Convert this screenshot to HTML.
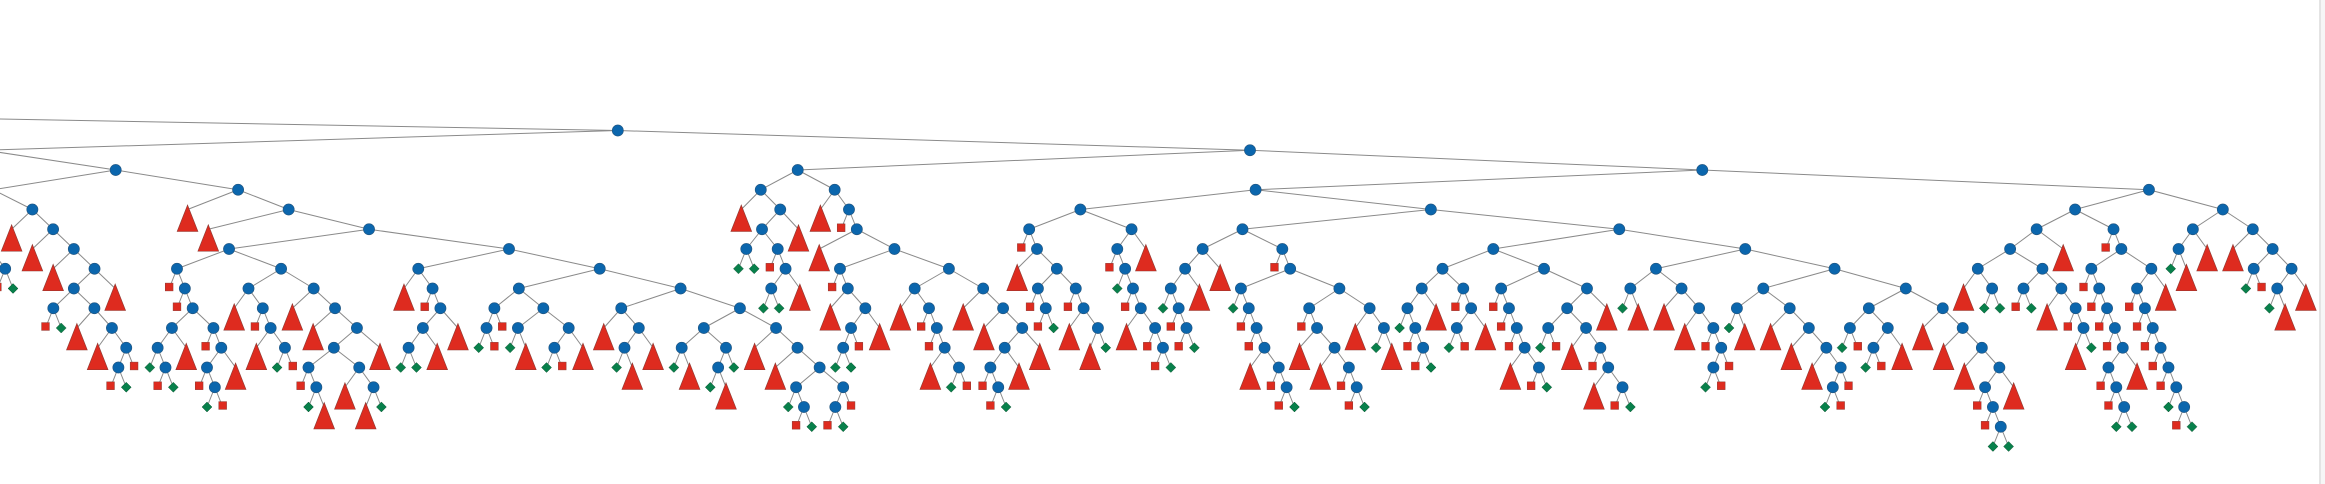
<!DOCTYPE html>
<html><head><meta charset="utf-8"><title>Tree</title>
<style>html,body{margin:0;padding:0;background:#fff;width:2325px;height:484px;overflow:hidden}svg{display:block}</style>
</head><body>
<svg id="chart" width="2325" height="484" viewBox="0 0 2325 484" xmlns="http://www.w3.org/2000/svg">
<rect x="0" y="0" width="2325" height="484" fill="#fff"/>
<rect x="2319" y="0" width="2" height="484" fill="#e4e4e4"/>
<rect x="2321" y="0" width="4" height="484" fill="#f6f6f6"/>
<g id="edges"></g>
<g id="nodes"></g>
</svg>
<script>
// Tree structure data: ( L R ) = split node, T = subtree triangle, s = red square leaf, d = green diamond leaf
const subX0 = "(T (T (T (s d))))";
const subD1 = "((T (T (T (s d)))) (T (T (T (((s d) (T (T ((s d) s)))) T)))))";
const subN179 = "(s (s (((d (s d)) T) (s ((s (d s)) T)))))";
const subN282 = "((T (s (T (d s)))) (T (T (((s (d T)) (T (T d))) T))))";
const subN419 = "(T (s (((d d) T) T)))";
const subN520 = "(((d s) s) ((d T) ((d s) T)))";
const subN741 = "(((d T) ((d T) d)) (T (T ((d (s d)) ((s d) s)))))";
const subE1 = "(T (((d d) (s ((d d) T))) T))";
const subN841 = "(s (T (((d d) s) T)))";
const subN916 = "(T (s (s (T (d s)))))";
const subN984 = "(T (T (((s (s d)) T) T)))";
const subN1030 = "(s (T ((s (s d)) (s (T (T d))))))";
const subN1132 = "((s (d (s (T (s (s d)))))) T)";
const subN1203 = "(((d (s (s d))) T) T)";
const subN1242 = "(d (s (s (T (s (s d))))))";
const subN1310 = "(s (T (T (s (s d)))))";
const subN1370 = "(T (d T))";
const subN1443 = "(((d (s (s d))) T) (s ((d s) T)))";
const subN1544 = "((s (s (s (T (s d))))) (((d s) (T (s (T (s d))))) T))";
const subN1655 = "((d T) (T (T (s ((d s) s)))))";
const subN1763 = "((d T) (T (T (T ((d s) s)))))";
const subN1905 = "(((d s) ((d s) T)) (T (T (T ((s (s (d d))) T)))))";
const subN2035 = "(((T (d d)) ((s d) (T (s (T d))))) T)";
const subN2090 = "(s (s (s (s ((s (s (d d))) T)))))";
const subN2150 = "((s (s (s (s (s (d (s d))))))) T)";
const subG2 = "(((d T) T) (T ((d s) ((d T) T))))";

const j = (a, b) => "(" + a + " " + b + ")";
const subD2 = "(T (T " + j(j(subN179, subN282), j(subN419, j(subN520, "((T ((d T) T)) " + subN741 + ")"))) + "))";
const subD = j(subD1, subD2);
const subE2 = "(T (s (T " + j(subN841, j(subN916, subN984)) + ")))";
const subE = j(subE1, subE2);
const subN1283 = "(s " + j(subN1242, j(subN1310, subN1370)) + ")";
const subN1431 = j(j(subN1203, subN1283), j(j(subN1443, subN1544), j(subN1655, j(subN1763, subN1905))));
const subF = j(j(subN1030, subN1132), subN1431);
const subG1 = j(subN2035, "(s " + j(subN2090, subN2150) + ")");
const subC = j(subF, j(subG1, subG2));
const subB = j(subE, subC);
const treeSpec = j(j(subX0, subD), subB);

// layout parameters
const anchorX = 1250;      // x of right child of top node
const rootParentX = -445;  // off-screen parent
const levelY0 = 130.5, levelGap = 19.75;
const H = 7.85, HT = 12.9;

function parse(str) {
  let i = 0;
  function node() {
    while (str[i] === ' ') i++;
    const c = str[i];
    if (c === '(') {
      i++;
      const kids = [];
      while (true) {
        while (str[i] === ' ') i++;
        if (str[i] === ')') { i++; break; }
        kids.push(node());
      }
      return { type: 'n', kids };
    }
    i++;
    return { type: c, kids: [] };
  }
  return node();
}
function lay(n) {
  if (!n.kids.length) {
    n.lc = n.type === 'T' ? [-H, -HT] : [-H];
    n.rc = n.type === 'T' ? [H, HT] : [H];
    return;
  }
  const a = n.kids[0], b = n.kids[1];
  lay(a); lay(b);
  let D = 0;
  for (let i = 0; i < Math.min(a.rc.length, b.lc.length); i++) D = Math.max(D, a.rc[i] - b.lc[i]);
  a.off = -D / 2; b.off = D / 2;
  n.lc = [-H]; n.rc = [H];
  const m = Math.max(a.lc.length, b.lc.length);
  for (let i = 0; i < m; i++) {
    const ls = [], rs = [];
    if (i < a.lc.length) { ls.push(a.lc[i] + a.off); rs.push(a.rc[i] + a.off); }
    if (i < b.lc.length) { ls.push(b.lc[i] + b.off); rs.push(b.rc[i] + b.off); }
    n.lc.push(Math.min(...ls)); n.rc.push(Math.max(...rs));
  }
}
function place(n, x, d) {
  n.x = x; n.d = d;
  n.kids.forEach(k => place(k, x + k.off, d + 1));
}
const root = parse(treeSpec);
lay(root);
place(root, 0, 0);
const shift = anchorX - root.kids[1].x;
const yOf = d => levelY0 + levelGap * d;
const NS = "http://www.w3.org/2000/svg";
const eg = document.getElementById('edges'), ng = document.getElementById('nodes');
function mk(tag, attrs, parent) {
  const e = document.createElementNS(NS, tag);
  for (const k in attrs) e.setAttribute(k, attrs[k]);
  parent.appendChild(e);
  return e;
}
function edge(x1, y1, x2, y2) {
  const l = mk('line', { x1, y1, x2, y2, stroke: '#8a8a8a', 'stroke-width': 1 }, eg);
  
  
}
edge(rootParentX, yOf(-1), root.x + shift, yOf(0));
function draw(n) {
  const x = n.x + shift, y = yOf(n.d);
  n.kids.forEach(k => { edge(x, y, k.x + shift, yOf(k.d)); draw(k); });
  let el;
  if (n.type === 'n') {
    el = mk('circle', { cx: x, cy: y, r: 5.6, fill: '#0b66ad', stroke: '#24557e', 'stroke-width': 0.6 }, ng);
    
  } else if (n.type === 'T') {
    el = mk('polygon', { points: `${x},${y - 4.5} ${x - 10.4},${y + 22} ${x + 10.4},${y + 22}`, fill: '#de2b1f', stroke: '#8c3a33', 'stroke-width': 0.6 }, ng);
    
  } else if (n.type === 's') {
    el = mk('rect', { x: x - 3.9, y: y - 5.4, width: 7.8, height: 7.8, fill: '#de2b1f', stroke: '#8c3a33', 'stroke-width': 0.5 }, ng);
    
  } else {
    el = mk('polygon', { points: `${x},${y - 5} ${x + 5},${y} ${x},${y + 5} ${x - 5},${y}`, fill: '#08804b', stroke: '#1f5a3c', 'stroke-width': 0.5 }, ng);
    
  }
  
}
draw(root);
</script>
</body></html>
